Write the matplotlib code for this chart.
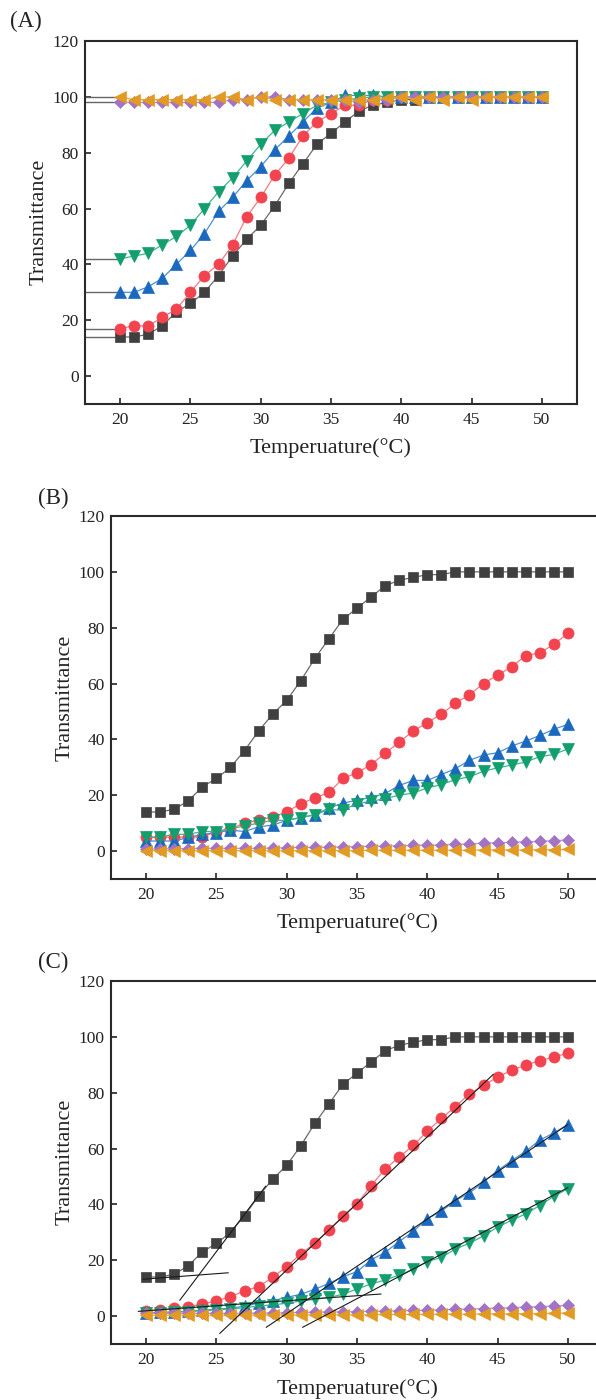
import matplotlib
matplotlib.use('Agg')
import matplotlib.pyplot as plt

plt.rcParams['font.family'] = ['Liberation Serif', 'DejaVu Serif']

# ---------------- data ----------------
temperature = list(range(20, 51))
x_ticks = [20, 25, 30, 35, 40, 45, 50]
y_ticks = [0, 20, 40, 60, 80, 100, 120]
x_label = "Temperuature(°C)"
y_label = "Transmittance"
panel_labels = ["(A)", "(B)", "(C)"]

# Panel A
A_black = [14, 14, 15, 18, 23, 26, 30, 36, 43, 49, 54, 61, 69, 76, 83, 87, 91, 95, 97, 98,
           99, 99, 100, 100, 100, 100, 100, 100, 100, 100, 100]
A_red = [17, 18, 18, 21, 24, 30, 36, 40, 47, 57, 64, 72, 78, 86, 91, 94, 97, 97, 99, 99,
         100, 100, 100, 100, 100, 100, 100, 100, 100, 100, 100]
A_blue = [30, 30, 32, 35, 40, 45, 51, 59, 64, 70, 75, 81, 86, 91, 96, 98, 100.5, 100.5, 100.5, 100,
          100, 100, 100, 100, 100, 100, 100, 100, 100, 100, 100]
A_green = [42, 43, 44, 47, 50, 54, 60, 66, 71, 77, 83, 88, 91, 94, 97, 98, 99, 99.5, 100, 100,
           100, 100, 100, 100, 100, 100, 100, 100, 100, 100, 100]
A_purple = [98, 98, 98, 98, 98, 98, 98, 98, 99, 99, 100, 100, 99, 99, 99, 99, 99, 98, 99, 99,
            100, 100, 100, 100, 100, 100, 100, 100, 100, 100, 100]
A_orange = [100, 99, 99, 99, 99, 99, 99, 100, 100, 99, 100, 99, 99, 99, 99, 99, 99, 99, 99, 99.5,
            100, 99, 100, 99, 100, 99, 100, 100, 100, 100, 100]

# Panel B
B_black = A_black
B_red = [5, 5, 5, 5, 5, 7, 8, 10, 11, 12.3, 14, 17, 19, 21, 26, 28, 31, 35, 39, 43,
         46, 49, 53, 56, 60, 63, 66, 70, 71, 74, 78]
B_blue = [3.6, 3.6, 3.6, 4.9, 6, 6.6, 7.5, 7, 8.7, 9.3, 11, 12, 13, 15.4, 17.2, 18.2, 19.3, 20.6, 23.5, 25.3,
          25.3, 27.4, 29.5, 32.5, 34.4, 35.2, 37.6, 39.4, 41.4, 43.6, 45.4]
B_green = [4.9, 5, 6, 6, 7, 7, 8, 9, 10, 11, 11, 12, 13, 14.9, 14.6, 17, 17.8, 18.8, 20, 20.8,
           22.6, 23.8, 25.6, 26.6, 28.6, 29.8, 30.8, 31.9, 33.8, 34.6, 36.6]
B_purple = [0.8, 0.8, 0.9, 0.9, 1, 1, 1, 1, 1, 1.1, 1.2, 1.3, 1.3, 1.4, 1.5, 1.6, 1.7, 1.8, 1.9, 2,
            2.1, 2.2, 2.4, 2.6, 2.8, 3, 3.1, 3.3, 3.5, 3.7, 4]
B_orange = [0.2, 0.2, 0.2, 0.2, 0.2, 0.2, 0.2, 0.2, 0.2, 0.2, 0.2, 0.2, 0.2, 0.2, 0.2, 0.2, 0.3, 0.3, 0.3, 0.3,
            0.3, 0.3, 0.3, 0.3, 0.4, 0.4, 0.4, 0.4, 0.5, 0.5, 0.6]

# Panel C
C_black = A_black
C_red = [1.8, 2.2, 2.8, 3.4, 4.3, 5.5, 6.9, 9.1, 10.5, 13.9, 17.7, 22.3, 26.1, 30.9, 35.7, 40.2, 46.7, 52.7, 56.9, 61.1,
         66.2, 70.8, 75, 79.6, 82.6, 85.6, 88, 89.9, 91.4, 92.8, 94.1]
C_blue = [1.2, 1.3, 1.5, 1.8, 2.1, 2.5, 2.8, 3.6, 4.6, 5.5, 6.7, 7.8, 9.6, 11.7, 14.1, 15.9, 20.1, 22.8, 26.7, 30.3,
          34.9, 37.5, 41.4, 44.1, 48, 52.1, 55.7, 59, 63, 65.6, 68.6]
C_green = [1.0, 1.2, 1.4, 1.6, 1.9, 2.2, 2.5, 3, 3.6, 4, 4.6, 5.4, 6, 6.7, 7.8, 9.7, 11.5, 12.9, 14.7, 16.8,
           19.5, 21, 24, 26.1, 28.7, 31.9, 34.3, 36.6, 39.6, 42.9, 45.6]
C_purple = [1, 1, 1, 1, 1, 1, 1, 1, 1.1, 1.1, 1.2, 1.3, 1.4, 1.5, 1.5, 1.6, 1.7, 1.8, 1.9, 2,
            2.1, 2.2, 2.4, 2.5, 2.7, 2.9, 3.0, 3.2, 3.4, 3.6, 3.8]
C_orange = [0.3, 0.3, 0.3, 0.3, 0.3, 0.3, 0.3, 0.4, 0.4, 0.4, 0.4, 0.4, 0.5, 0.5, 0.5, 0.5, 0.5, 0.6, 0.6, 0.6,
            0.6, 0.7, 0.7, 0.7, 0.8, 0.8, 0.8, 0.9, 0.9, 1.0, 1.1]

# Panel C tangent lines (start/end in data units)
tan_x0 = [19.8, 22.4, 19.45, 25.24, 28.55, 31.14]
tan_y0 = [13.2, 5.7, 1.7, -6.2, -4.0, -4.0]
tan_x1 = [25.83, 28.5, 36.7, 44.7, 50.0, 50.0]
tan_y1 = [15.5, 46.5, 7.9, 86.6, 68.6, 46.0]

# ---------------- styles ----------------
styles = [
    dict(marker='s', ms=6.8, mfc='#404040', mec='#404040', color='#6a6a6a'),
    dict(marker='o', ms=8.0, mfc='#f2434f', mec='#f2434f', color='#f47a80'),
    dict(marker='^', ms=8.5, mfc='#1b69bf', mec='#1b69bf', color='#4a8fd6'),
    dict(marker='v', ms=8.5, mfc='#139e6e', mec='#139e6e', color='#3cb887'),
    dict(marker='D', ms=5.8, mfc='#a474c4', mec='#a474c4', color='#bb95d6'),
    dict(marker='<', ms=8.5, mfc='#e39a22', mec='#e39a22', color='#e8ac45'),
]

panels = [
    [A_black, A_red, A_blue, A_green, A_purple, A_orange],
    [B_black, B_red, B_blue, B_green, B_purple, B_orange],
    [C_black, C_red, C_blue, C_green, C_purple, C_orange],
]

W, H = 596, 1400
fig = plt.figure(figsize=(W / 100, H / 100), dpi=100)

# axes boxes in pixels: left, right, top, bottom
boxes = [(85, 577, 41, 404), (111, 603, 516, 879), (111, 603, 981, 1344)]
label_pos = [(26, 21), (53, 498), (53, 962)]
ylabel_pos = [(39, 222), (65, 698), (65, 1162)]
xlabel_y = [448, 923, 1389]

XMIN, XMAX = 17.5, 52.5
axes = []
for i, (l, r, t, b) in enumerate(boxes):
    ax = fig.add_axes([l / W, 1 - b / H, (r - l) / W, (b - t) / H])
    axes.append(ax)
    for series, st in zip(panels[i], styles):
        ax.plot(temperature, series, lw=0.9, color=st['color'], marker=st['marker'],
                ms=st['ms'], mfc=st['mfc'], mec=st['mec'], mew=0.5, zorder=3)
    ax.set_xlim(XMIN, XMAX)
    ax.set_ylim(-10, 120)
    ax.set_xticks(x_ticks)
    ax.set_yticks(y_ticks)
    ax.tick_params(direction='in', length=4.5, width=1.2, labelsize=12.5, pad=5.5,
                   colors='#222222')
    ax.tick_params(axis='y', pad=4.5)
    for sp in ax.spines.values():
        sp.set_linewidth(1.5)
        sp.set_color('#2a2a2a')
    fig.text(label_pos[i][0] / W, 1 - label_pos[i][1] / H, panel_labels[i],
             ha='center', va='center', fontsize=16.5, color='#222222')
    fig.text(ylabel_pos[i][0] / W, 1 - ylabel_pos[i][1] / H, y_label, rotation=90,
             ha='center', va='center', fontsize=16, color='#222222')
    xc = (l + (35 - XMIN) / (XMAX - XMIN) * (r - l)) / W
    fig.text(xc, 1 - xlabel_y[i] / H, x_label, ha='center', va='center',
             fontsize=16, color='#222222')

# Panel A: lead lines from the axis to the first point
axA = axes[0]
for series in panels[0]:
    axA.plot([XMIN, temperature[0]], [series[0], series[0]], color='#666666', lw=1.0, zorder=2)

# Panel C: tangent lines
axC = axes[2]
for x0, y0, x1, y1 in zip(tan_x0, tan_y0, tan_x1, tan_y1):
    axC.plot([x0, x1], [y0, y1], color='#1a1a1a', lw=0.8, zorder=4)

fig.savefig('out.png', dpi=100)
